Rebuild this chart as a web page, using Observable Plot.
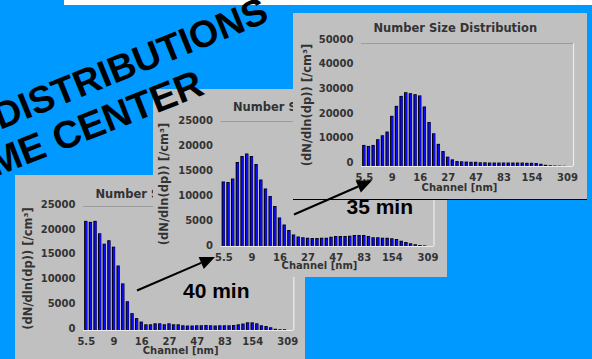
<!DOCTYPE html>
<html><head><meta charset="utf-8">
<script src="https://cdn.jsdelivr.net/npm/d3@7"></script>
<script src="https://cdn.jsdelivr.net/npm/@observablehq/plot@0.6"></script>
<style>
html,body{margin:0;padding:0;background:#0099ff;}
#stage{position:relative;width:592px;height:359px;overflow:hidden;background:#0099ff;}
.panel{position:absolute;background:#c0c0c0;overflow:hidden;}
.panel svg{display:block;}
#strip{position:absolute;left:64px;top:0;width:528px;height:5px;background:#fff;}
#overlay{position:absolute;left:0;top:0;pointer-events:none;}
</style></head>
<body><div id="stage"><div id="strip"></div></div>
<script>
// ---- data ----
const tickChannels = [0, 6, 12, 18, 24, 30, 36, 43.6];
const tickLabels = ["5.5", "9", "16", "27", "47", "83", "154", "309"];
const yTicks25 = [0, 5000, 10000, 15000, 20000, 25000];
const yTicks50 = [0, 10000, 20000, 30000, 40000, 50000];
const chartTitle = "Number Size Distribution";
const xLabel = "Channel [nm]";
const yLabel = "(dN/dln(dp)) [/cm³]";
// bottom-left chart (40 min)
const values40 = [22000, 21800, 22000, 19500, 17400, 18100, 16800, 13000, 9400, 5800,
  3400, 2400, 1700, 1150, 1150, 1350, 1350, 1150, 1350, 1150,
  1150, 950, 900, 900, 950, 950, 1000, 950, 900, 950,
  950, 950, 1000, 1150, 1300, 1550, 1550, 1350, 950, 800,
  550, 250, 150, 150];
// middle chart
const valuesMid = [12900, 12800, 13500, 16800, 18000, 18500, 18000, 16400, 13300, 11500,
  10000, 8000, 5700, 4300, 3200, 2300, 1900, 1750, 1650, 1600,
  1600, 1650, 1650, 1850, 2000, 2000, 2000, 2050, 2200, 2200,
  2200, 2000, 1750, 1750, 1650, 1650, 1550, 1400, 1050, 800,
  550, 350, 200, 120];
// top-right chart (35 min)
const values35 = [8560, 8150, 8560, 10900, 12500, 14000, 20400, 24450, 28500, 30000,
  29600, 29200, 28700, 24200, 17900, 13300, 9000, 6100, 3800, 2700,
  2000, 1900, 1800, 1700, 1700, 1500, 1500, 1400, 1400, 1400,
  1400, 1400, 1400, 1400, 1400, 1300, 1300, 1200, 900, 500,
  300, 200, 150, 100];
const headline1 = "DISTRIBUTIONS";
const headline2 = "ME CENTER";
const timeLabels = ["40 min", "35 min"];

const labelOf = new Map(tickChannels.map((c, i) => [c, tickLabels[i]]));
const xDomain = [-0.6, 44.9];

function makePanel(cfg) {
  const data = cfg.values.map((v, i) => ({i, v}));
  const yMax = cfg.yTicks[cfg.yTicks.length - 1];
  const svg = Plot.plot({
    width: cfg.w, height: cfg.h,
    marginTop: cfg.mt, marginBottom: cfg.mb, marginLeft: cfg.ml, marginRight: cfg.mr,
    x: {domain: xDomain, axis: null},
    y: {domain: [0, yMax], axis: null},
    style: {background: "transparent", color: "#333", fontFamily: "DejaVu Sans", fontSize: "10px", fontWeight: "bold", overflow: "visible"},
    marks: [
      Plot.ruleY([0], {stroke: "#ececec", strokeWidth: 1.2}),
      Plot.ruleX([xDomain[1]], {stroke: "#ececec", strokeWidth: 1.2}),
      Plot.ruleY([yMax], {stroke: "#9c9c9c", strokeWidth: 1}),
      Plot.rect(data, {x1: d => d.i - 0.36, x2: d => d.i + 0.36, y1: 0, y2: "v", fill: "#000"}),
      Plot.rect(data, {x1: d => d.i - 0.14, x2: d => d.i + 0.30, y1: 0, y2: "v", fill: "#0a0aff", insetTop: 0.8}),
      Plot.axisY(cfg.yTicks, {tickSize: 0, tickPadding: 8, dy: cfg.ydy, label: null, tickFormat: d => String(d), fill: "#333"}),
      Plot.axisX(tickChannels, {tickSize: 0, tickPadding: 7, label: null, tickFormat: d => labelOf.get(d), fill: "#333"}),
      Plot.text([xLabel], {frameAnchor: "bottom", textAnchor: "middle", dy: cfg.xldy, dx: -8, fill: "#333"}),
      Plot.text([yLabel], {frameAnchor: "left", textAnchor: "middle", rotate: -90, dx: cfg.yldx, fontSize: 11.5, fill: "#333"}),
      Plot.text([chartTitle], {frameAnchor: "top-left", textAnchor: "start", dx: 12, dy: cfg.tdy, fontSize: 11.5, fill: "#333"})
    ]
  });
  const div = document.createElement("div");
  div.className = "panel";
  div.style.left = cfg.left + "px";
  div.style.top = cfg.top + "px";
  div.style.width = cfg.w + "px";
  div.style.height = cfg.h + "px";
  if (cfg.borderBottom) div.style.borderBottom = "1.5px solid #000";
  div.appendChild(svg);
  document.getElementById("stage").appendChild(div);
}

makePanel({values: values40, yTicks: yTicks25, left: 15, top: 175, w: 290, h: 184,
  mt: 31, mb: 29, ml: 68, mr: 11.7, ydy: -2, xldy: 23, yldx: -55, tdy: -17});
makePanel({values: valuesMid, yTicks: yTicks25, left: 153, top: 89, w: 294, h: 188,
  mt: 32, mb: 31, ml: 67.5, mr: 13.5, ydy: -1, xldy: 22.5, yldx: -57, tdy: -18.6});
makePanel({values: values35, yTicks: yTicks50, left: 293, top: 13, w: 294, h: 186,
  mt: 30, mb: 33, ml: 68, mr: 14, ydy: -4, xldy: 24, yldx: -54.5, tdy: -19.7, borderBottom: true});

// ---- overlay annotations ----
const ov = d3.select("#stage").append("svg").attr("id", "overlay").attr("width", 592).attr("height", 359);
const headFont = "'Liberation Sans', Arial, sans-serif";
ov.append("text").text(headline1).attr("transform", "translate(0,130) rotate(-22)")
  .attr("font-family", headFont).attr("font-weight", "bold").attr("font-size", 37.5).attr("fill", "#000");
ov.append("text").text(headline2).attr("transform", "translate(-5,177) rotate(-21.5)")
  .attr("font-family", headFont).attr("font-weight", "bold").attr("font-size", 38.5).attr("fill", "#000");

function arrow(x1, y1, x2, y2) {
  const a = Math.atan2(y2 - y1, x2 - x1), L = 15, W = 6.5;
  const bx = x2 - L * Math.cos(a), by = y2 - L * Math.sin(a);
  ov.append("line").attr("x1", x1).attr("y1", y1).attr("x2", bx).attr("y2", by)
    .attr("stroke", "#000").attr("stroke-width", 2);
  ov.append("polygon").attr("points", [
    [x2, y2],
    [bx + W * Math.sin(a), by - W * Math.cos(a)],
    [bx - W * Math.sin(a), by + W * Math.cos(a)]
  ].map(p => p.join(",")).join(" ")).attr("fill", "#000");
}
arrow(137, 290.5, 215, 257);
arrow(294, 214.5, 372, 180.5);

ov.append("text").text(timeLabels[0]).attr("x", 183).attr("y", 298)
  .attr("font-family", headFont).attr("font-weight", "bold").attr("font-size", 21).attr("fill", "#000");
ov.append("text").text(timeLabels[1]).attr("x", 346.5).attr("y", 213.5)
  .attr("font-family", headFont).attr("font-weight", "bold").attr("font-size", 21).attr("fill", "#000");
</script>
</body></html>
